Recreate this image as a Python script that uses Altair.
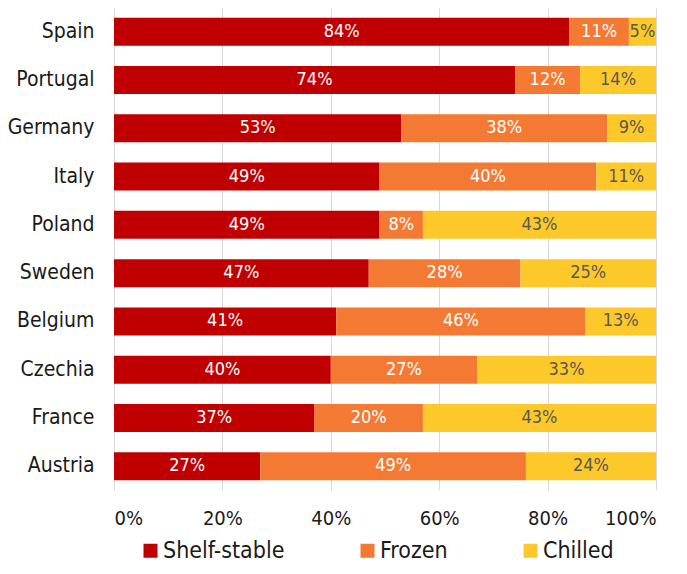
import altair as alt
import pandas as pd

countries = ["Spain", "Portugal", "Germany", "Italy", "Poland",
             "Sweden", "Belgium", "Czechia", "France", "Austria"]
shelf_stable = [84, 74, 53, 49, 49, 47, 41, 40, 37, 27]
frozen = [11, 12, 38, 40, 8, 28, 46, 27, 20, 49]
chilled = [5, 14, 9, 11, 43, 25, 13, 33, 43, 24]
categories = ["Shelf-stable", "Frozen", "Chilled"]
colors = ["#C00000", "#F47A33", "#FDC82A"]
label_colors = ["#FFFFFF", "#FFFFFF", "#595959"]
x_ticks = [0, 0.2, 0.4, 0.6, 0.8, 1.0]

FONT = "DejaVu Sans Condensed, Liberation Sans Narrow, DejaVu Sans, sans-serif"

rows = []
for i, c in enumerate(countries):
    for j, (cat, vals) in enumerate(zip(categories, [shelf_stable, frozen, chilled])):
        rows.append({"country": c, "category": cat, "order": j, "value": vals[i] / 100})
df = pd.DataFrame(rows)

y_enc = alt.Y(
    "country:N", sort=countries, title=None,
    scale=alt.Scale(paddingInner=0.42, paddingOuter=0.2),
    axis=alt.Axis(labelFontSize=21, labelColor="#1a1a1a", labelFont=FONT,
                  ticks=False, domain=False, labelPadding=20),
)

bars = alt.Chart(df).mark_bar().encode(
    x=alt.X("value:Q", stack="zero", title=None,
            scale=alt.Scale(domain=[0, 1], nice=False),
            axis=alt.Axis(format=".0%", values=x_ticks, grid=True, gridColor="#d9d9d9",
                          ticks=False, domain=False, labelFontSize=20, labelFont=FONT,
                          labelColor="#1a1a1a", labelPadding=18)),
    y=y_enc,
    color=alt.Color("category:N", sort=categories,
                    scale=alt.Scale(domain=categories, range=colors),
                    legend=alt.Legend(title=None, orient="none", direction="horizontal",
                                      legendX=25, legendY=531, symbolType="square",
                                      symbolSize=196, symbolStrokeWidth=0,
                                      labelFontSize=23, labelFont=FONT, labelColor="#1a1a1a",
                                      labelOffset=1, columnPadding=71, labelLimit=300)),
    order=alt.Order("order:Q"),
)

text = alt.Chart(df).transform_stack(
    stack="value", groupby=["country"], sort=[alt.SortField("order")], as_=["x0", "x1"]
).transform_calculate(
    mid="(datum.x0 + datum.x1) / 2"
).mark_text(fontSize=18, font=FONT, baseline="middle", align="center").encode(
    x=alt.X("mid:Q", title=None),
    y=y_enc,
    text=alt.Text("value:Q", format=".0%"),
    color=alt.Color("category:N", scale=alt.Scale(domain=categories, range=label_colors),
                    legend=None),
)

chart = alt.layer(bars, text).resolve_scale(color="independent").properties(
    width=542, height=482,
    autosize=alt.AutoSizeParams(type="none"),
    padding={"left": 106, "top": 0, "right": 23, "bottom": 74},
).configure_view(stroke=None)

chart.save("out.html", embed_options={"renderer": "svg", "actions": False})
